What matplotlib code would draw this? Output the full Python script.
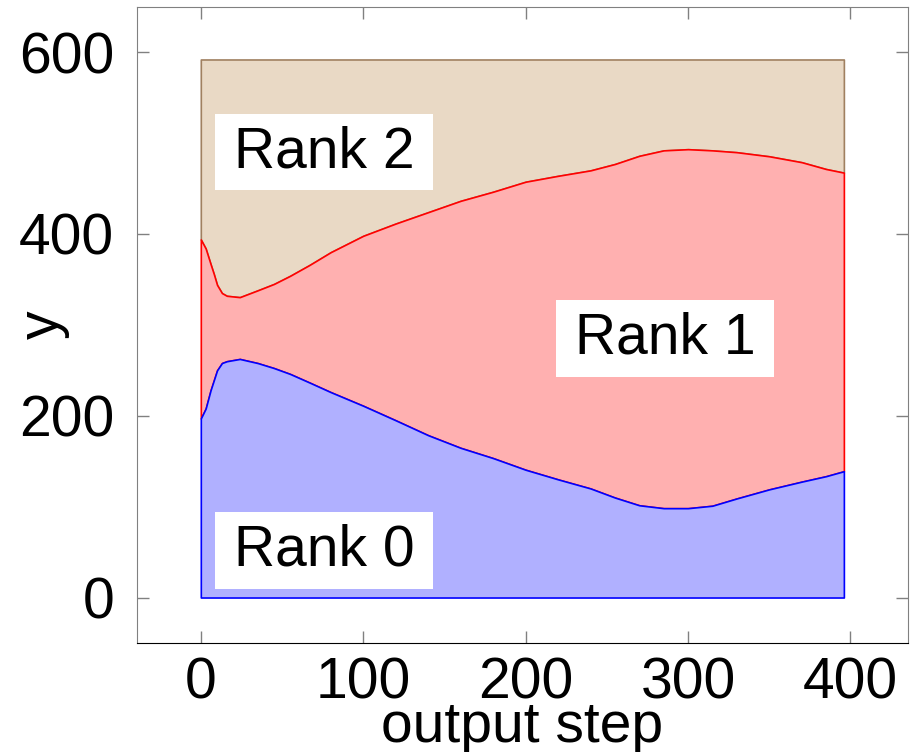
import matplotlib
matplotlib.use("Agg")
import matplotlib.pyplot as plt

# per-rank load along the run (rank 0 = bottom band, rank 1 stacked on top of it)
steps = [0, 3, 6, 8, 10, 13, 16, 24, 35, 45, 55, 67, 80, 100, 120, 140, 160,
         180, 200, 220, 240, 255, 270, 285, 300, 315, 330, 350, 370, 385, 396]
rank0_top = [197, 208, 228, 239, 250, 258, 260, 262.5, 258, 252.5, 246, 236.5,
             226, 211, 195, 178.6, 164.7, 153.4, 140.6, 130, 120, 110, 101.5,
             98.3, 98.3, 101, 109, 119, 127.5, 133.5, 139]
rank1_top = [394, 384, 367, 356, 344, 335, 332, 330.5, 338, 345, 354, 366,
             380, 398, 411.5, 424, 436.5, 446.5, 457.5, 464, 470, 477, 486,
             492, 493.3, 492, 490, 485.5, 479, 471.5, 467.5]
total = 592

labels = ["Rank 0", "Rank 1", "Rank 2"]
label_x = [76, 286, 76]
label_y = [52, 285, 490]

plt.rcParams['font.family'] = ['Liberation Sans', 'DejaVu Sans']

fig = plt.figure(figsize=(9.1, 7.52), dpi=100)
ax = fig.add_axes([0.150, 0.145, 0.848, 0.846])

top = [total] * len(steps)
zero = [0] * len(steps)

# rank 2 first so the lower bands' outlines sit on top of its edges
ax.fill_between(steps, rank1_top, top, facecolor='#e9d9c5', edgecolor='#a08060', linewidth=1.2)
ax.fill_between(steps, rank0_top, rank1_top, facecolor='#ffb0b0', edgecolor='#ff0000', linewidth=1.2)
ax.fill_between(steps, zero, rank0_top, facecolor='#b0b0ff', edgecolor='#0000ff', linewidth=1.2)

for txt, x, y in zip(labels, label_x, label_y):
    ax.text(x, y, txt, fontsize=41, ha='center', va='center',
            bbox=dict(boxstyle='square,pad=0.33', mutation_aspect=0.6,
                      facecolor='white', edgecolor='none'))

ax.set_xlim(-39.6, 435.6)
ax.set_ylim(-50, 650)
ax.set_xticks([0, 100, 200, 300, 400])
ax.set_yticks([0, 200, 400, 600])
ax.tick_params(direction='in', length=8.6, width=1, color='#808080',
               labelsize=41, top=True, right=True)
ax.tick_params(axis='x', pad=10)
ax.tick_params(axis='y', pad=16)

for side in ['left', 'top', 'right']:
    ax.spines[side].set_color('#808080')
ax.spines['bottom'].set_color('black')

ax.set_xlabel("output step", fontsize=41, labelpad=-8)
ax.set_ylabel("y", fontsize=41, va='center')
ax.yaxis.set_label_coords(-0.121, 0.5)

fig.savefig("out.png", dpi=100)
